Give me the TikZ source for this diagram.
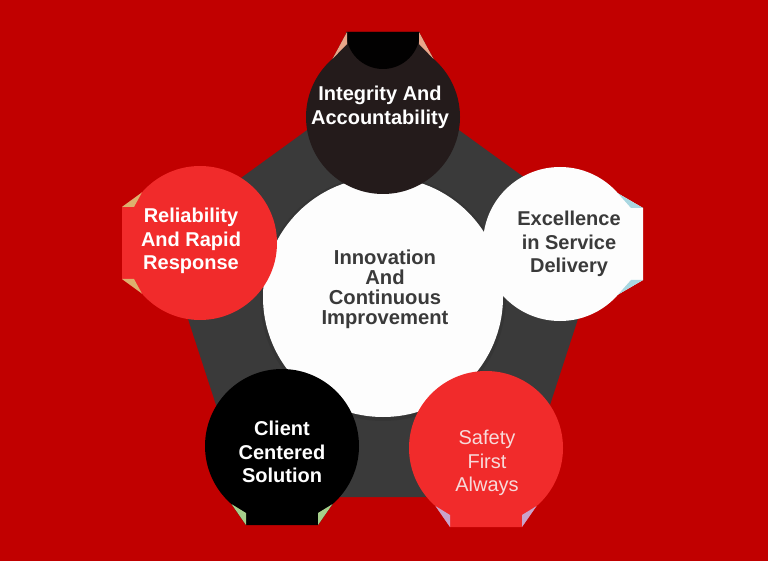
\documentclass[tikz,border=0pt]{standalone}
\usepackage{fontspec}
\setmainfont{Liberation Sans}
\definecolor{bgred}{HTML}{C10000}
\definecolor{pentgrey}{HTML}{3A3A3A}
\definecolor{topdark}{HTML}{241B1B}
\definecolor{brightred}{HTML}{F12B2B}
\definecolor{softwhite}{HTML}{FDFDFD}
\definecolor{txtgrey}{HTML}{3A3A3A}
\definecolor{pinktxt}{HTML}{F7DADA}
\definecolor{salmon}{HTML}{E9A689}
\definecolor{tan}{HTML}{DDB06E}
\definecolor{lightblue}{HTML}{A9D7E1}
\definecolor{lightgreen}{HTML}{A6CF8B}
\definecolor{lavender}{HTML}{C9A3CB}
\newcommand{\pintab}[7]{%
  % #1 cx, #2 cy, #3 rotation, #4 tab distance, #5 fill, #6 fold colour, #7 extra
  \begin{scope}[shift={(#1,#2)}, rotate=#3]
    \fill[#5] (0pt,0pt) circle[radius=77pt];
    \fill[#5] (-36pt,#4pt) -- (36pt,#4pt) -- (50.5pt,58.1pt) -- (0pt,0pt) -- (-50.5pt,58.1pt) -- cycle;
    #7
    \fill[#6] (36pt,#4pt) -- (50.5pt,58.1pt) -- (36pt,#4pt-12pt) -- cycle;
    \fill[#6] (-36pt,#4pt) -- (-50.5pt,58.1pt) -- (-36pt,#4pt-12pt) -- cycle;
  \end{scope}}
\tikzset{
  lbl/.style={align=center, font=\fontsize{20}{23.5}\selectfont\bfseries, inner sep=0pt},
  centerlbl/.style={align=center, font=\fontsize{20.2}{20}\selectfont\bfseries, inner sep=0pt, text=txtgrey}
}
\begin{document}
\begin{tikzpicture}[x=1pt,y=-1pt]
  \useasboundingbox (0,0) rectangle (768,561);
  \fill[bgred] (0,0) rectangle (768,561);
  % pentagon
  \fill[pentgrey] (383,75) -- (605,236) -- (520,497) -- (246,497) -- (161,236) -- cycle;
  % central circle with soft shadow
  \fill[black,opacity=0.07] (383,298) circle[radius=123pt];
  \fill[softwhite] (383,297) circle[radius=120pt];
  % outer pins
  \pintab{383}{117}{0}{85}{topdark}{salmon}{\fill[black!95!topdark] (-37pt,85pt) arc[start angle=180, end angle=360, radius=37pt] -- cycle;}
  \pintab{200}{243}{90}{78}{brightred}{tan}{}
  \pintab{560}{244}{-90}{83}{softwhite}{lightblue}{}
  \pintab{282}{446}{180}{79}{black}{lightgreen}{}
  \pintab{486}{448}{180}{79}{brightred}{lavender}{}
  % labels
  \node[lbl, text=white] (top) at (380,107.5) {Integrity And\\Accountability};
  \node[lbl, text=white] (left) at (191,241) {Reliability\\And Rapid\\Response};
  \node[lbl, text=txtgrey] (right) at (569,244) {Excellence\\in Service\\Delivery};
  \node[lbl, text=white] (bl) at (282,452) {Client\\Centered\\Solution};
  \node[lbl, text=pinktxt, font=\fontsize{20}{23.5}\selectfont] (br) at (487,463) {Safety\\First\\Always};
  \node[centerlbl] (center) at (385,289) {Innovation\\And\\Continuous\\Improvement};
\end{tikzpicture}
\end{document}
